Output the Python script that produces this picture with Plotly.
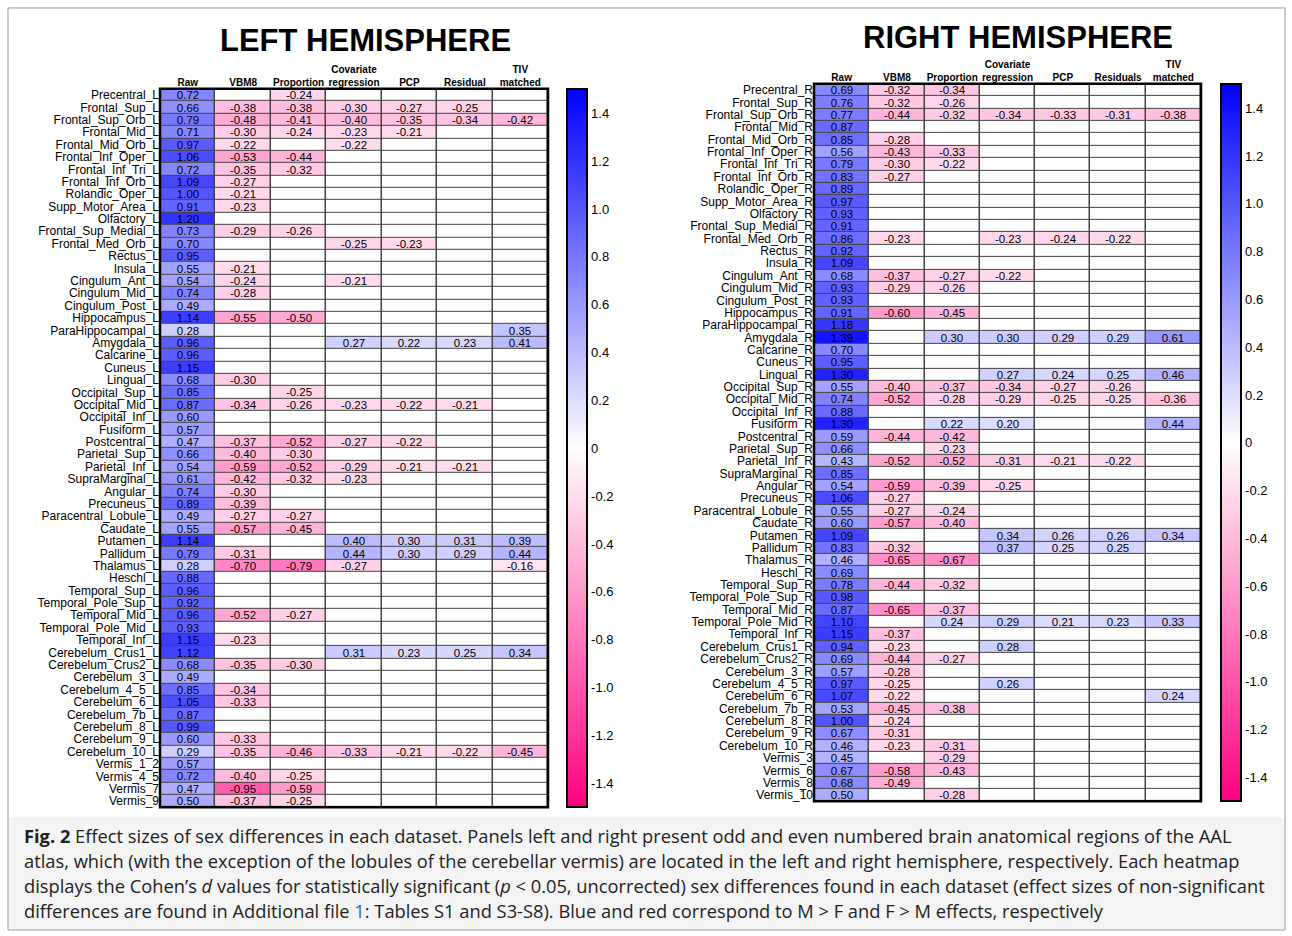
import plotly.graph_objects as go

W, H = 1292, 936

methods_left = ["Raw", "VBM8", "Proportion", "Covariate<br>regression", "PCP", "Residual", "TIV<br>matched"]
methods_right = ["Raw", "VBM8", "Proportion", "Covariate<br>regression", "PCP", "Residuals", "TIV<br>matched"]

# region name + Cohen's d per method (blank = not significant)
left_rows = [
    ("Precentral_L", ".72,,-.24"),
    ("Frontal_Sup_L", ".66,-.38,-.38,-.30,-.27,-.25"),
    ("Frontal_Sup_Orb_L", ".79,-.48,-.41,-.40,-.35,-.34,-.42"),
    ("Frontal_Mid_L", ".71,-.30,-.24,-.23,-.21"),
    ("Frontal_Mid_Orb_L", ".97,-.22,,-.22"),
    ("Frontal_Inf_Oper_L", "1.06,-.53,-.44"),
    ("Frontal_Inf_Tri_L", ".72,-.35,-.32"),
    ("Frontal_Inf_Orb_L", "1.09,-.27"),
    ("Rolandic_Oper_L", "1.00,-.21"),
    ("Supp_Motor_Area_L", ".91,-.23"),
    ("Olfactory_L", "1.20"),
    ("Frontal_Sup_Medial_L", ".73,-.29,-.26"),
    ("Frontal_Med_Orb_L", ".70,,,-.25,-.23"),
    ("Rectus_L", ".95"),
    ("Insula_L", ".55,-.21"),
    ("Cingulum_Ant_L", ".54,-.24,,-.21"),
    ("Cingulum_Mid_L", ".74,-.28"),
    ("Cingulum_Post_L", ".49"),
    ("Hippocampus_L", "1.14,-.55,-.50"),
    ("ParaHippocampal_L", ".28,,,,,,.35"),
    ("Amygdala_L", ".96,,,.27,.22,.23,.41"),
    ("Calcarine_L", ".96"),
    ("Cuneus_L", "1.15"),
    ("Lingual_L", ".68,-.30"),
    ("Occipital_Sup_L", ".85,,-.25"),
    ("Occipital_Mid_L", ".87,-.34,-.26,-.23,-.22,-.21"),
    ("Occipital_Inf_L", ".60"),
    ("Fusiform_L", ".57"),
    ("Postcentral_L", ".47,-.37,-.52,-.27,-.22"),
    ("Parietal_Sup_L", ".66,-.40,-.30"),
    ("Parietal_Inf_L", ".54,-.59,-.52,-.29,-.21,-.21"),
    ("SupraMarginal_L", ".61,-.42,-.32,-.23"),
    ("Angular_L", ".74,-.30"),
    ("Precuneus_L", ".89,-.39"),
    ("Paracentral_Lobule_L", ".49,-.27,-.27"),
    ("Caudate_L", ".55,-.57,-.45"),
    ("Putamen_L", "1.14,,,.40,.30,.31,.39"),
    ("Pallidum_L", ".79,-.31,,.44,.30,.29,.44"),
    ("Thalamus_L", ".28,-.70,-.79,-.27,,,-.16"),
    ("Heschl_L", ".88"),
    ("Temporal_Sup_L", ".96"),
    ("Temporal_Pole_Sup_L", ".92"),
    ("Temporal_Mid_L", ".96,-.52,-.27"),
    ("Temporal_Pole_Mid_L", ".93"),
    ("Temporal_Inf_L", "1.15,-.23"),
    ("Cerebelum_Crus1_L", "1.12,,,.31,.23,.25,.34"),
    ("Cerebelum_Crus2_L", ".68,-.35,-.30"),
    ("Cerebelum_3_L", ".49"),
    ("Cerebelum_4_5_L", ".85,-.34"),
    ("Cerebelum_6_L", "1.05,-.33"),
    ("Cerebelum_7b_L", ".87"),
    ("Cerebelum_8_L", ".99"),
    ("Cerebelum_9_L", ".60,-.33"),
    ("Cerebelum_10_L", ".29,-.35,-.46,-.33,-.21,-.22,-.45"),
    ("Vermis_1_2", ".57"),
    ("Vermis_4_5", ".72,-.40,-.25"),
    ("Vermis_7", ".47,-.95,-.59"),
    ("Vermis_9", ".50,-.37,-.25"),
]

right_rows = [
    ("Precentral_R", ".69,-.32,-.34"),
    ("Frontal_Sup_R", ".76,-.32,-.26"),
    ("Frontal_Sup_Orb_R", ".77,-.44,-.32,-.34,-.33,-.31,-.38"),
    ("Frontal_Mid_R", ".87"),
    ("Frontal_Mid_Orb_R", ".85,-.28"),
    ("Frontal_Inf_Oper_R", ".56,-.43,-.33"),
    ("Frontal_Inf_Tri_R", ".79,-.30,-.22"),
    ("Frontal_Inf_Orb_R", ".83,-.27"),
    ("Rolandic_Oper_R", ".89"),
    ("Supp_Motor_Area_R", ".97"),
    ("Olfactory_R", ".93"),
    ("Frontal_Sup_Medial_R", ".91"),
    ("Frontal_Med_Orb_R", ".86,-.23,,-.23,-.24,-.22"),
    ("Rectus_R", ".92"),
    ("Insula_R", "1.09"),
    ("Cingulum_Ant_R", ".68,-.37,-.27,-.22"),
    ("Cingulum_Mid_R", ".93,-.29,-.26"),
    ("Cingulum_Post_R", ".93"),
    ("Hippocampus_R", ".91,-.60,-.45"),
    ("ParaHippocampal_R", "1.18"),
    ("Amygdala_R", "1.39,,.30,.30,.29,.29,.61"),
    ("Calcarine_R", ".70"),
    ("Cuneus_R", ".95"),
    ("Lingual_R", "1.30,,,.27,.24,.25,.46"),
    ("Occipital_Sup_R", ".55,-.40,-.37,-.34,-.27,-.26"),
    ("Occipital_Mid_R", ".74,-.52,-.28,-.29,-.25,-.25,-.36"),
    ("Occipital_Inf_R", ".88"),
    ("Fusiform_R", "1.30,,.22,.20,,,.44"),
    ("Postcentral_R", ".59,-.44,-.42"),
    ("Parietal_Sup_R", ".66,,-.23"),
    ("Parietal_Inf_R", ".43,-.52,-.52,-.31,-.21,-.22"),
    ("SupraMarginal_R", ".85"),
    ("Angular_R", ".54,-.59,-.39,-.25"),
    ("Precuneus_R", "1.06,-.27"),
    ("Paracentral_Lobule_R", ".55,-.27,-.24"),
    ("Caudate_R", ".60,-.57,-.40"),
    ("Putamen_R", "1.09,,,.34,.26,.26,.34"),
    ("Pallidum_R", ".83,-.32,,.37,.25,.25"),
    ("Thalamus_R", ".46,-.65,-.67"),
    ("Heschl_R", ".69"),
    ("Temporal_Sup_R", ".78,-.44,-.32"),
    ("Temporal_Pole_Sup_R", ".98"),
    ("Temporal_Mid_R", ".87,-.65,-.37"),
    ("Temporal_Pole_Mid_R", "1.10,,.24,.29,.21,.23,.33"),
    ("Temporal_Inf_R", "1.15,-.37"),
    ("Cerebelum_Crus1_R", ".94,-.23,,.28"),
    ("Cerebelum_Crus2_R", ".69,-.44,-.27"),
    ("Cerebelum_3_R", ".57,-.28"),
    ("Cerebelum_4_5_R", ".97,-.25,,.26"),
    ("Cerebelum_6_R", "1.07,-.22,,,,,.24"),
    ("Cerebelum_7b_R", ".53,-.45,-.38"),
    ("Cerebelum_8_R", "1.00,-.24"),
    ("Cerebelum_9_R", ".67,-.31"),
    ("Cerebelum_10_R", ".46,-.23,-.31"),
    ("Vermis_3", ".45,,-.29"),
    ("Vermis_6", ".67,-.58,-.43"),
    ("Vermis_8", ".68,-.49"),
    ("Vermis_10", ".50,,-.28"),
]

cbar_ticks = [1.4, 1.2, 1.0, 0.8, 0.6, 0.4, 0.2, 0, -0.2, -0.4, -0.6, -0.8, -1.0, -1.2, -1.4]

colorscale = [[0, "rgb(255,0,128)"], [0.5, "white"], [1, "rgb(0,0,255)"]]


def parse(rows, n):
    z, txt = [], []
    for _, s in rows:
        parts = s.split(",") + [""] * n
        vals = [float(p) if p else None for p in parts[:n]]
        z.append([v if v is not None else 0 for v in vals])
        txt.append(["%.2f" % v if v is not None else "" for v in vals])
    return z, txt


def px_x(p):
    return p / W


def px_y(p):
    return 1 - p / H


fig = go.Figure()

panels = [
    (left_rows, methods_left, (160, 548), (88, 808), 567, "", "LEFT HEMISPHERE", 365, 40),
    (right_rows, methods_right, (814, 1201), (83, 802), 1221, "2", "RIGHT HEMISPHERE", 1018, 37),
]

for rows, methods, (x0, x1), (y0, y1), cbx, ax, title, tx, ty in panels:
    z, txt = parse(rows, len(methods))
    labels = [r[0] for r in rows]
    cols = ["<b>%s</b>" % m for m in methods]
    fig.add_trace(go.Heatmap(
        z=z, x=cols, y=labels, text=txt, texttemplate="%{text}",
        textfont=dict(size=11.5, color="black", family="Liberation Sans"),
        colorscale=colorscale, zmin=-1.5, zmax=1.5, xgap=1.5, ygap=1,
        xaxis="x" + ax, yaxis="y" + ax, hoverinfo="skip",
        colorbar=dict(x=px_x(cbx), xanchor="left", y=px_y(y1), yanchor="bottom",
                      len=(y1 - y0) / H, lenmode="fraction", thickness=20,
                      outlinecolor="black", outlinewidth=2,
                      tickvals=cbar_ticks, ticktext=["%.1f" % t if t else "0" for t in cbar_ticks],
                      ticks="", tickfont=dict(size=13, color="black"), ypad=0, xpad=0),
    ))
    xa = dict(domain=[px_x(x0), px_x(x1)], side="top", anchor="y" + ax, ticks="",
              tickfont=dict(size=10, color="black"), showgrid=False, fixedrange=True)
    ya = dict(domain=[px_y(y1), px_y(y0)], autorange="reversed", anchor="x" + ax, ticks="",
              tickmode="array", tickvals=labels, ticktext=labels,
              tickfont=dict(size=12, color="black"), showgrid=False, fixedrange=True, ticklen=0)
    fig.update_layout(**{"xaxis" + ax: xa, "yaxis" + ax: ya})
    fig.add_shape(type="rect", xref="paper", yref="paper", x0=px_x(x0), x1=px_x(x1),
                  y0=px_y(y1), y1=px_y(y0), line=dict(color="black", width=2.5))
    fig.add_annotation(x=px_x(tx), y=px_y(ty), xref="paper", yref="paper", showarrow=False,
                       xanchor="center", yanchor="middle",
                       text="<b>%s</b>" % title, font=dict(size=31, color="black"))

# caption box and outer frame
fig.add_shape(type="rect", xref="paper", yref="paper", x0=px_x(9), x1=px_x(1284),
              y0=px_y(930), y1=px_y(818), fillcolor="#f4f4f4", line=dict(width=0), layer="below")
fig.add_shape(type="rect", xref="paper", yref="paper", x0=px_x(8), x1=px_x(1285),
              y0=px_y(931), y1=px_y(7), line=dict(color="#9a9a9a", width=1))

caption = [
    "<b>Fig. 2</b> Effect sizes of sex differences in each dataset. Panels left and right present odd and even numbered brain anatomical regions of the AAL",
    "atlas, which (with the exception of the lobules of the cerebellar vermis) are located in the left and right hemisphere, respectively. Each heatmap",
    "displays the Cohen’s <i>d</i> values for statistically significant (<i>p</i> &lt; 0.05, uncorrected) sex differences found in each dataset (effect sizes of non-significant",
    "differences are found in Additional file <span style='color:#1a6fb0'>1</span>: Tables S1 and S3-S8). Blue and red correspond to M &gt; F and F &gt; M effects, respectively",
]
for i, line in enumerate(caption):
    fig.add_annotation(x=px_x(22), y=px_y(836 + 25 * i), xref="paper", yref="paper", xanchor="left",
                       yanchor="middle", showarrow=False, text=line,
                       font=dict(size=18.3, color="#222", family="Open Sans"))

fig.update_layout(
    width=W, height=H, margin=dict(l=0, r=0, t=0, b=0),
    paper_bgcolor="white", plot_bgcolor="#444",
    font=dict(family="Liberation Sans", color="black"),
)

fig.write_html("out.html", config={"displayModeBar": False})

# remove default page margin so the figure fills the window exactly
with open("out.html", "r", encoding="utf-8") as f:
    html = f.read()
html = html.replace("<head>", "<head><style>body{margin:0;overflow:hidden}</style>", 1)
with open("out.html", "w", encoding="utf-8") as f:
    f.write(html)
